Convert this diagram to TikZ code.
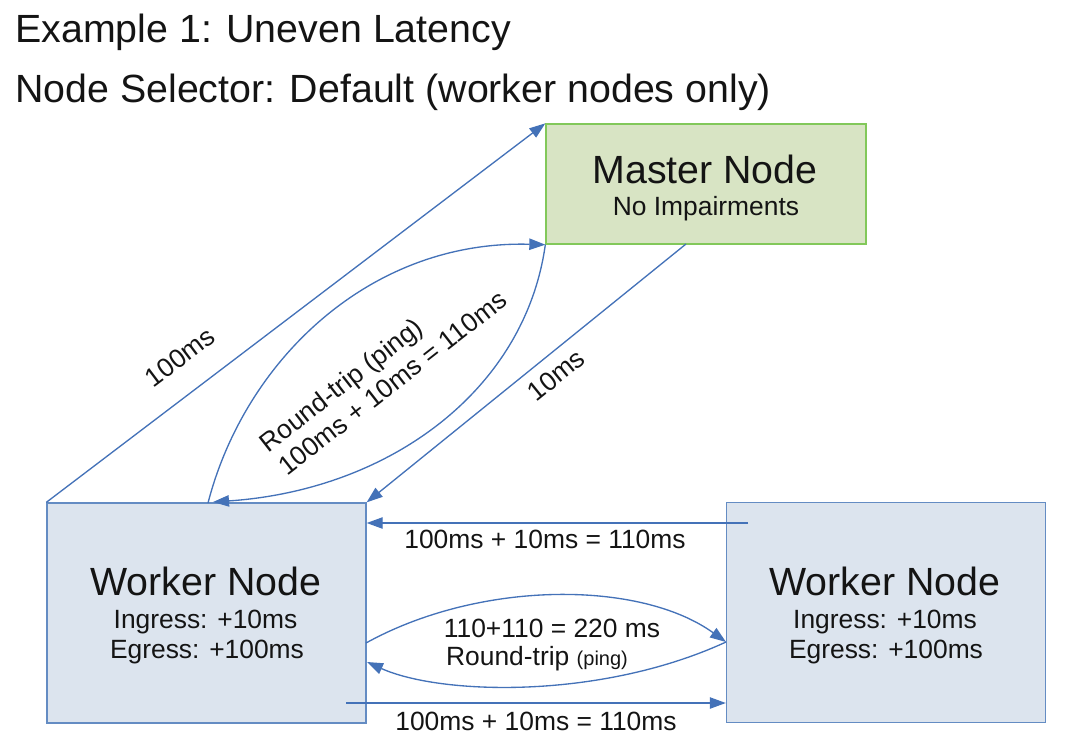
\documentclass[tikz,border=0pt]{standalone}
\usepackage{fontspec}
\setmainfont{Liberation Sans}
\usetikzlibrary{arrows.meta,calc}
\definecolor{lnk}{RGB}{68,114,184}
\definecolor{wfill}{RGB}{220,228,238}
\definecolor{wdraw}{RGB}{100,140,195}
\definecolor{mfill}{RGB}{216,228,196}
\definecolor{mdraw}{RGB}{130,200,90}
\definecolor{ink}{RGB}{20,20,20}
\begin{document}
\begin{tikzpicture}[x=0.75pt,y=-0.75pt,
 big/.style={font=\fontsize{29.5}{34}\selectfont},
 small/.style={font=\fontsize{19.8}{22.5}\selectfont},
 txt/.style={inner sep=0pt, anchor=base, text=ink},
 arr/.style={draw=lnk, line width=1pt, -{Triangle[length=12pt,width=8.5pt]}},
 wbox/.style={draw=wdraw, fill=wfill, line width=1pt, minimum width=239.25pt, minimum height=165pt, inner sep=0pt},
 mbox/.style={draw=mdraw, fill=mfill, line width=1pt, minimum width=240pt, minimum height=90pt, inner sep=0pt},
]
\useasboundingbox (0,0) rectangle (1065,740);
% boxes
\node[mbox] (m) at (706,184) {};
\node[wbox] (wl) at (206.5,613) {};
\node[wbox] (wr) at (886,612.5) {};
% titles
\node[txt,big,anchor=base west] (t1) at (15,42) {Example 1: Uneven Latency};
\node[txt,big,anchor=base west] (t2) at (15,102) {Node Selector: Default (worker nodes only)};
% box texts
\node[txt,big] (mt) at (705,183) {Master Node};
\node[txt,small] (ms) at (706,215) {No Impairments};
\node[txt,big] (wlt) at (206,595) {Worker Node};
\node[txt,small] (wli) at (205.5,628) {Ingress: +10ms};
\node[txt,small] (wle) at (207,658) {Egress: +100ms};
\node[txt,big] (wrt) at (885,595) {Worker Node};
\node[txt,small] (wri) at (885,628) {Ingress: +10ms};
\node[txt,small] (wre) at (886,658) {Egress: +100ms};
% coordinates
\coordinate (wlA) at (208,503);
\coordinate (wlB) at (213,502);
\coordinate (mC) at (686,244);
\coordinate (h1s) at (748,523);
\coordinate (h2s) at (346,703);
\coordinate (c1s) at (366,643);
\coordinate (c1e) at (726,642);
\coordinate (c2e) at (367,662);
% connectors
\draw[arr] (wl.north west) -- (m.north west);
\draw[arr] (wlA) .. controls (245,360) and (370,240) .. (m.south west);
\draw[arr] (m.south west) .. controls (525,390) and (390,490) .. (wlB);
\draw[arr] (mC) -- (wl.north east);
\draw[arr] (h1s) -- (wl.east |- h1s);
\draw[arr] (h2s) -- (wr.west |- h2s);
\draw[arr] (c1s) .. controls (480,580) and (640,580) .. (c1e);
\draw[arr] (c1e) .. controls (600,700) and (440,695) .. (c2e);
% labels
\node[small,text=ink,rotate=37,inner sep=0pt] (l1) at (180,357) {100ms};
\node[small,text=ink,rotate=38,inner sep=0pt,align=left] (l2) at (383,371) {Round-trip (ping)\\100ms + 10ms = 110ms};
\node[small,text=ink,rotate=39,inner sep=0pt] (l3) at (556,375) {10ms};
\node[txt,small] (l4) at (545,548) {100ms + 10ms = 110ms};
\node[txt,small] (l5) at (536,730) {100ms + 10ms = 110ms};
\node[txt,small] (l6) at (552,637) {110+110 = 220 ms};
\node[txt,small] (l7) at (537,665) {Round-trip {\fontsize{15}{18}\selectfont(ping)}};
\end{tikzpicture}
\end{document}
